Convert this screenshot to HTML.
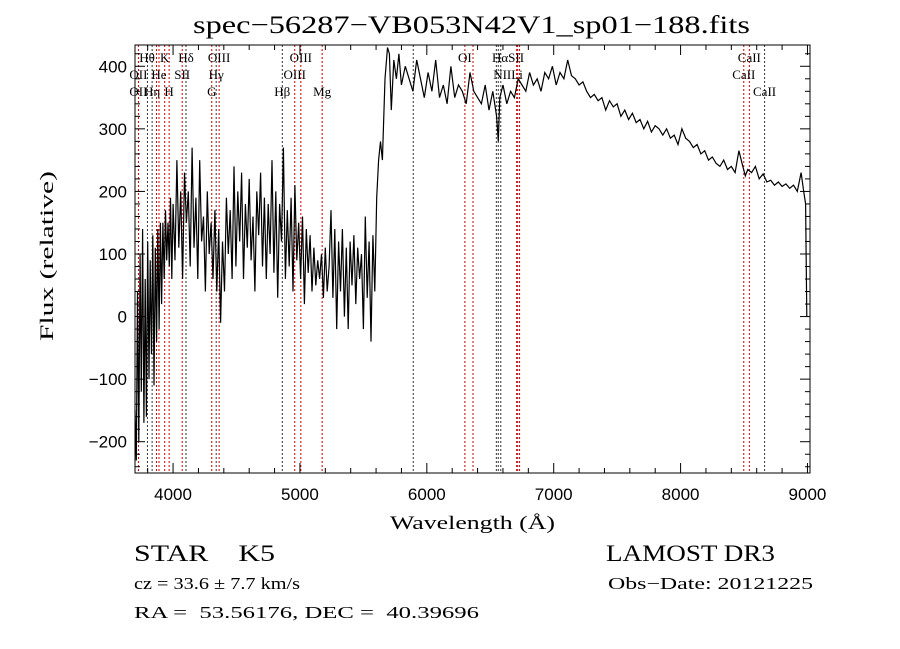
<!DOCTYPE html>
<html><head><meta charset="utf-8"><style>
html,body{margin:0;padding:0;background:#fff;}
svg{display:block}
text{white-space:pre}
</style></head><body>
<svg id="chart" width="900" height="649" viewBox="0 0 900 649" xmlns="http://www.w3.org/2000/svg" xml:space="preserve">
<rect width="900" height="649" fill="#fff"/>
<text x="193" y="33" textLength="557" lengthAdjust="spacingAndGlyphs" font-family="Liberation Serif, serif" font-size="25">spec−56287−VB053N42V1_sp01−188.fits</text>
<g id="lines"></g>
<g id="axes"></g>
<path id="spec" fill="none" stroke="#000" stroke-width="1.2"/>
<text x="390" y="529" textLength="165" lengthAdjust="spacingAndGlyphs" font-family="Liberation Serif, serif" font-size="19">Wavelength (Å)</text>
<text transform="translate(53,341) rotate(-90)" textLength="170" lengthAdjust="spacingAndGlyphs" font-family="Liberation Serif, serif" font-size="19">Flux (relative)</text>
<text x="134" y="561" textLength="141" lengthAdjust="spacingAndGlyphs" font-family="Liberation Serif, serif" font-size="23">STAR    K5</text>
<text x="134" y="589" textLength="166" lengthAdjust="spacingAndGlyphs" font-family="Liberation Serif, serif" font-size="17">cz = 33.6 ± 7.7 km/s</text>
<text x="134" y="618" textLength="345" lengthAdjust="spacingAndGlyphs" font-family="Liberation Serif, serif" font-size="17">RA =  53.56176, DEC =  40.39696</text>
<text x="606" y="561" textLength="169" lengthAdjust="spacingAndGlyphs" font-family="Liberation Serif, serif" font-size="23">LAMOST DR3</text>
<text x="608" y="589" textLength="205" lengthAdjust="spacingAndGlyphs" font-family="Liberation Serif, serif" font-size="17">Obs−Date: 20121225</text>
</svg>
<script>
const wave = [3700,3710,3720,3730,3740,3750,3760,3770,3780,3790,3800,3810,3820,3830,3840,3850,3860,3870,3880,3890,3900,3910,3920,3930,3940,3950,3960,3970,3980,3990,
4000,4015,4030,4045,4060,4075,4090,4105,4120,4135,4150,4165,4180,4195,4210,4225,4240,4255,4270,4285,4300,4315,4330,4345,4360,4375,4390,4405,4420,4435,4450,4465,4480,4495,4510,4525,4540,4555,4570,4585,4600,4615,4630,4645,4660,4675,4690,4705,4720,4735,4750,4765,4780,4795,4810,4825,4840,4855,4870,4885,4900,4915,4930,4945,4960,4975,4990,5005,5020,5035,5050,5065,5080,5095,5110,5125,5140,5155,5170,5185,5200,5215,5230,5245,5260,5275,5290,5305,5320,5335,5350,5365,5380,5395,5410,5425,5440,5455,5470,5485,5500,5515,5530,5545,5560,5575,5590,5605,5620,5635,
5650,5670,5690,5705,5720,5740,5760,5780,5800,5830,5860,5890,5920,5950,5980,6010,6040,6070,6100,6130,6160,6190,6220,6250,6280,6310,6340,6370,6400,6430,6460,6490,6520,6550,6563,6575,6600,6630,6660,6690,6720,6750,6780,6810,6840,6870,6900,6930,6960,6990,7020,7050,7080,7110,7140,7170,7200,7230,7260,7290,7320,7350,7380,7410,7440,7470,7500,7530,7560,7590,7620,7650,7680,7710,7740,7770,7800,7830,7860,7890,7920,7950,7980,8010,8040,8070,8100,8130,8160,8190,8220,8250,8280,8310,8340,8370,8400,8430,8460,8490,8510,8530,8560,8590,8620,8650,8680,8710,8740,8770,8800,8830,8860,8890,8920,8950,8970,8985,8995,9000];
const flux = [-150,-230,40,-200,100,-120,140,-170,60,-160,120,-100,90,-60,130,-110,110,-40,140,-20,150,20,150,60,170,90,150,80,190,60,
180,90,250,110,200,60,230,150,200,80,270,110,190,60,250,120,160,40,200,100,150,60,170,40,140,-10,120,40,190,100,170,60,240,80,200,120,230,60,180,110,220,90,160,40,200,130,230,80,190,60,180,100,250,70,200,30,180,120,270,60,170,80,190,40,210,90,150,60,160,20,140,70,130,40,110,50,90,60,100,30,110,40,80,170,30,140,-20,120,40,140,0,110,-20,120,50,130,20,110,60,100,-20,160,30,120,-40,130,40,190,250,280,
250,380,430,420,330,410,380,420,370,400,380,360,410,380,350,390,360,410,350,370,340,400,350,370,360,340,390,360,350,340,370,330,360,320,280,350,370,340,360,350,380,370,360,390,370,380,360,390,380,400,370,390,380,410,385,380,370,375,360,350,355,345,350,330,345,335,340,320,330,315,325,310,315,300,312,295,305,300,290,300,285,290,275,300,285,280,270,275,260,265,250,255,245,240,250,235,240,230,265,240,225,235,230,240,220,228,215,218,210,215,208,212,205,210,200,230,200,180,0];
const xTicks = [4000,5000,6000,7000,8000,9000];
const yTicks = [-200,-100,0,100,200,300,400];
const lineWaves = [3727,3798,3835,3869,3889,3934,3969,4102,4072,4305,4340,4363,4861,4959,5007,5175,5893,6300,6364,6548,6563,6583,6708,6716,6731,8498,8542,8662];
const lineBlack = [0,1,1,0,0,0,0,1,0,0,1,0,1,0,0,0,1,0,0,1,1,1,0,0,0,0,0,1];
const labelText = ["Hθ","K","Hδ","OIII","OIII","OI","HαSII","CaII","OII","He","SII","Hγ","OIII","NIILi","CaII","OII","Hη","H","G","Hβ","Mg","CaII"];
const labelWave = [3795,3934,4102,4363,5007,6300,6640,8542,3727,3889,4072,4340,4959,6640,8498,3727,3835,3969,4305,4861,5175,8662];
const labelRow = [0,0,0,0,0,0,0,0,1,1,1,1,1,1,1,2,2,2,2,2,2,2];

const X0=135,X1=810,Y0=45,Y1=473, WMIN=3700, WMAX=9020, FMIN=-250, FMAX=434;
const xs = w => X0 + (w-WMIN)/(WMAX-WMIN)*(X1-X0);
const ys = f => Y1 - (f-FMIN)/(FMAX-FMIN)*(Y1-Y0);
const NS="http://www.w3.org/2000/svg";
function mk(tag, attrs, parent){const e=document.createElementNS(NS,tag);for(const k in attrs)e.setAttribute(k,attrs[k]);parent.appendChild(e);return e;}

const lg=document.getElementById('lines');
lineWaves.forEach((w,i)=>{
  const l=mk('line',{x1:xs(w),x2:xs(w),y1:Y0,y2:Y1,stroke:lineBlack[i]?'#333':'#c00','stroke-width':1,'stroke-dasharray':'2,2'},lg);
  
  
});
labelText.forEach((t,i)=>{
  const e=mk('text',{x:xs(labelWave[i]),y:62+labelRow[i]*17,'text-anchor':'middle','font-family':'Liberation Serif, serif','font-size':13},lg);
  e.textContent=t;
  
  
});

let d='';
wave.forEach((w,i)=>{const f=Math.max(FMIN,Math.min(FMAX,flux[i]));d+=(i?'L':'M')+xs(w).toFixed(1)+','+ys(f).toFixed(1);});
document.getElementById('spec').setAttribute('d',d);

const ax=document.getElementById('axes');
const fr=mk('rect',{x:X0,y:Y0,width:X1-X0,height:Y1-Y0,fill:'none',stroke:'#000','stroke-width':1},ax);


for(let w=3800;w<=9000;w+=200){
  const big=w%1000===0, L=big?10:5;
  mk('line',{x1:xs(w),x2:xs(w),y1:Y1,y2:Y1-L,stroke:'#000'},ax);
  mk('line',{x1:xs(w),x2:xs(w),y1:Y0,y2:Y0+L,stroke:'#000'},ax);
}
xTicks.forEach(w=>{
  const t=mk('text',{x:xs(w),y:500,'text-anchor':'middle','font-family':'Liberation Sans, sans-serif','font-size':17},ax);
  t.textContent=w;
  
  
});
for(let f=-240;f<=420;f+=20){
  const big=f%100===0, L=big?10:5;
  mk('line',{x1:X0,x2:X0+L,y1:ys(f),y2:ys(f),stroke:'#000'},ax);
  mk('line',{x1:X1,x2:X1-L,y1:ys(f),y2:ys(f),stroke:'#000'},ax);
}
yTicks.forEach(f=>{
  const t=mk('text',{x:127,y:ys(f)+6,'text-anchor':'end','font-family':'Liberation Sans, sans-serif','font-size':17},ax);
  t.textContent=f<0?'−'+(-f):f;
  
  
});
</script>
</body></html>
